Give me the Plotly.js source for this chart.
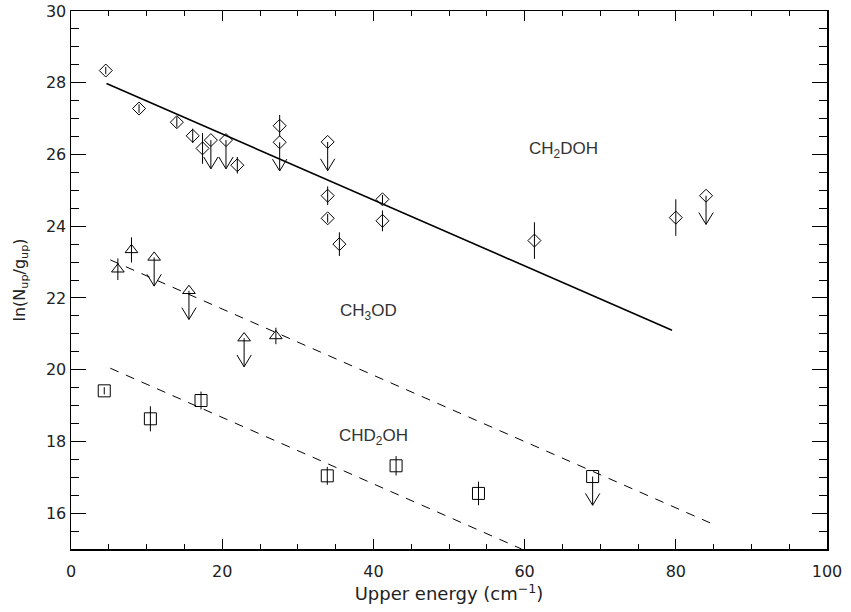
<!DOCTYPE html>
<html>
<head>
<meta charset="utf-8">
<script src="https://cdn.plot.ly/plotly-3.0.1.min.js"></script>
<style>html,body{margin:0;padding:0;background:#fff}#chart{width:851px;height:612px}</style>
</head>
<body>
<div id="chart"></div>
<script>
// ---- CH2DOH (diamonds) ----
var ch2dohX    = [4.6, 9.0, 14.0, 16.1, 17.4, 22.0, 27.6, 33.95, 33.95, 35.5, 41.2, 41.2, 61.3, 80.0];
var ch2dohY    = [28.34, 27.28, 26.9, 26.52, 26.17, 25.7, 26.8, 24.85, 24.22, 23.5, 24.75, 24.15, 23.6, 24.24];
var ch2dohErr  = [0.1, 0.12, 0.15, 0.2, 0.43, 0.23, 0.3, 0.26, 0.12, 0.33, 0.12, 0.29, 0.51, 0.51];
var ch2dohLimX = [18.5, 20.5, 27.6, 33.95, 84.0];
var ch2dohLimY = [26.4, 26.4, 26.34, 26.35, 24.85];
var ch2dohFitX = [4.7, 79.5];
var ch2dohFitY = [27.98, 21.1];

// ---- CH3OD (triangles) ----
var ch3odX    = [6.2, 8.0, 27.1];
var ch3odY    = [22.8, 23.34, 20.94];
var ch3odErr  = [0.3, 0.35, 0.23];
var ch3odLimX = [11.0, 15.6, 22.9];
var ch3odLimY = [23.13, 22.2, 20.88];
var ch3odFitX = [5.2, 85.5];
var ch3odFitY = [23.06, 15.64];

// ---- CHD2OH (squares) ----
var chd2ohX    = [4.4, 10.5, 17.2, 33.9, 43.0, 53.9];
var chd2ohY    = [19.41, 18.63, 19.14, 17.04, 17.32, 16.55];
var chd2ohErr  = [0.1, 0.35, 0.25, 0.25, 0.27, 0.33];
var chd2ohLimX = [69.0];
var chd2ohLimY = [17.02];
var chd2ohFitX = [5.2, 59.6];
var chd2ohFitY = [20.04, 15.0];

// labels
var labelText = ['CH<sub>2</sub>DOH', 'CH<sub>3</sub>OD', 'CHD<sub>2</sub>OH'];
var labelX = [65.1, 39.3, 40.0];
var labelY = [26.12, 21.6, 18.12];

// upper-limit arrow geometry (style)
var ARROW_LEN = 0.8, HEAD_H = 0.33, HEAD_W = 0.95;

function arrows(xs, ys) {
  var ax = [], ay = [];
  for (var i = 0; i < xs.length; i++) {
    var x = xs[i], y = ys[i], tip = y - ARROW_LEN;
    ax.push(x, x, null, x - HEAD_W, x, x + HEAD_W, null);
    ay.push(y, tip, null, tip + HEAD_H, tip, tip + HEAD_H, null);
  }
  return {x: ax, y: ay, mode: 'lines', type: 'scatter', line: {color: '#000', width: 1},
          hoverinfo: 'skip', showlegend: false, connectgaps: false};
}

function pts(xs, ys, errs, symbol, size) {
  return {x: xs, y: ys, mode: 'markers', type: 'scatter',
    marker: {symbol: symbol, size: size, color: '#000', line: {color: '#000', width: 1}},
    error_y: errs ? {type: 'data', array: errs, visible: true, width: 0, thickness: 1, color: '#000'} : undefined,
    hoverinfo: 'skip', showlegend: false};
}

function fit(xs, ys, dash, width) {
  return {x: xs, y: ys, mode: 'lines', type: 'scatter',
    line: {color: '#000', width: width, dash: dash}, hoverinfo: 'skip', showlegend: false};
}

var traces = [
  fit(ch2dohFitX, ch2dohFitY, 'solid', 1.6),
  fit(ch3odFitX, ch3odFitY, '9px,8px', 1),
  fit(chd2ohFitX, chd2ohFitY, '9px,8px', 1),
  arrows(ch2dohLimX, ch2dohLimY),
  arrows(ch3odLimX, ch3odLimY),
  arrows(chd2ohLimX, chd2ohLimY),
  pts(ch2dohX, ch2dohY, ch2dohErr, 'diamond-open', 10),
  pts(ch2dohLimX, ch2dohLimY, null, 'diamond-open', 10),
  pts(ch3odX, ch3odY, ch3odErr, 'triangle-up-open', 11),
  pts(ch3odLimX, ch3odLimY, null, 'triangle-up-open', 11),
  pts(chd2ohX, chd2ohY, chd2ohErr, 'square-open', 12),
  pts(chd2ohLimX, chd2ohLimY, null, 'square-open', 12)
];

var annotations = labelText.map(function (t, i) {
  return {x: labelX[i], y: labelY[i], xref: 'x', yref: 'y', text: t, showarrow: false,
          xanchor: 'center', yanchor: 'middle',
          font: {family: 'Liberation Sans, Arial, sans-serif', size: 17, color: '#333'}};
});

var tickFont = {family: 'DejaVu Sans, sans-serif', size: 16, color: '#222'};
var xTitleFont = {family: 'DejaVu Sans, sans-serif', size: 18, color: '#222'};
var yTitleFont = {family: 'DejaVu Sans, sans-serif', size: 16, color: '#222'};

var layout = {
  width: 851, height: 612,
  margin: {l: 71, r: 24, t: 11, b: 63},
  paper_bgcolor: '#fff', plot_bgcolor: '#fff',
  font: tickFont,
  showlegend: false,
  xaxis: {
    range: [0, 100], tick0: 0, dtick: 20, ticks: 'inside', ticklen: 10, tickwidth: 1,
    minor: {dtick: 5, ticks: 'inside', ticklen: 5, tickwidth: 1, tickcolor: '#000', showgrid: false},
    showline: true, linewidth: 1.5, linecolor: '#000', mirror: 'allticks', tickcolor: '#000',
    showgrid: false, zeroline: false, tickfont: tickFont, ticklabelstandoff: 7,
    title: {text: 'Upper energy (cm<sup>−1</sup>)', font: xTitleFont, standoff: 6}
  },
  yaxis: {
    range: [15, 30], tick0: 0, dtick: 2, ticks: 'inside', ticklen: 15, tickwidth: 1,
    minor: {dtick: 0.5, ticks: 'inside', ticklen: 8, tickwidth: 1, tickcolor: '#000', showgrid: false},
    showline: true, linewidth: 1.5, linecolor: '#000', mirror: 'allticks', tickcolor: '#000',
    showgrid: false, zeroline: false, tickfont: tickFont,
    title: {text: 'ln(N<sub>up</sub>/g<sub>up</sub>)', font: yTitleFont, standoff: 16}
  },
  annotations: annotations
};

Plotly.newPlot('chart', traces, layout, {displayModeBar: false, staticPlot: true});
</script>
</body>
</html>
